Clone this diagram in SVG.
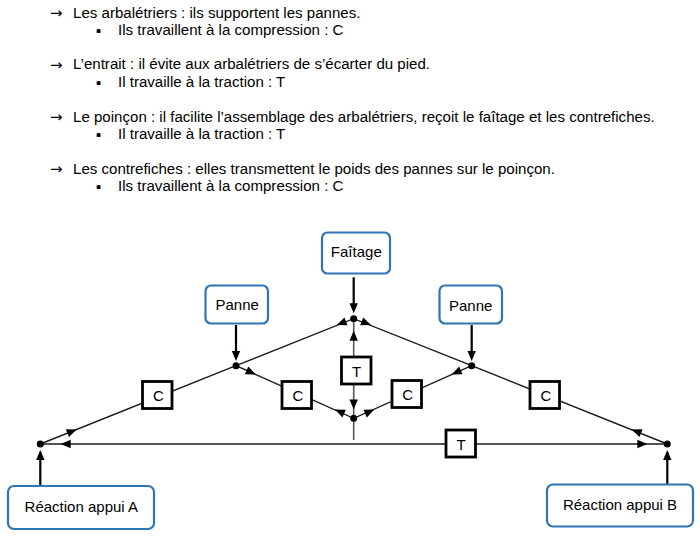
<svg xmlns="http://www.w3.org/2000/svg" width="700" height="536" viewBox="0 0 700 536">
<style>
text{font-family:"Liberation Sans",Arial,sans-serif;fill:#000}
.h{font-size:15.08px}
.s{font-family:"DejaVu Sans",sans-serif;font-size:15px}
.p{font-family:"DejaVu Sans",sans-serif;font-size:7.5px}
.b{font-size:15px;text-anchor:middle}
.n rect{fill:#fff;stroke:#2e75b6;stroke-width:2.2}
.m rect{fill:#fff;stroke:#000;stroke-width:2.8}
.l{stroke:#1a1a1a;stroke-width:1.4;fill:none}
.g{stroke:#555;stroke-width:1.6;fill:none}
.k{stroke:#000;stroke-width:2.2;fill:none}
.a,.d{fill:#000}
</style>
<defs>
<path id="ah" d="M0 0L-10 -4.2L-10 4.2Z" class="a"/>
</defs>
<rect width="700" height="536" fill="#fff"/>
<g id="texte">
<text class="s" x="50" y="18">→</text><text class="h" x="73" y="17.5">Les arbalétriers : ils supportent les pannes.</text>
<text class="p" x="96" y="33.300">▪</text><text class="h" x="118" y="35">Ils travaillent à la compression : C</text>
<text class="s" x="50" y="70">→</text><text class="h" x="73" y="69">L’entrait : il évite aux arbalétriers de s’écarter du pied.</text>
<text class="p" x="96" y="85.300">▪</text><text class="h" x="118" y="87">Il travaille à la traction : T</text>
<text class="s" x="50" y="122">→</text><text class="h" x="73" y="121.5">Le poinçon : il facilite l’assemblage des arbalétriers, reçoit le faîtage et les contrefiches.</text>
<text class="p" x="96" y="136.800">▪</text><text class="h" x="118" y="138.500">Il travaille à la traction : T</text>
<text class="s" x="50" y="174">→</text><text class="h" x="73" y="173.500">Les contrefiches : elles transmettent le poids des pannes sur le poinçon.</text>
<text class="p" x="96" y="189.300">▪</text><text class="h" x="118" y="191">Ils travaillent à la compression : C</text>
</g>
<g id="connecteurs">
<path class="l" d="M40.300 444L236 365.700L353.700 318.700L471.700 365.700L667.300 444"/>
<path class="l" d="M40.300 444H667.300"/>
<path class="l" d="M236 365.700L353.700 418.300L471.700 365.700"/>
<path class="g" d="M353.700 318.700V440"/>
<path class="k" d="M353.700 277.300V306M236 325V353M471.700 325V353M40.300 486V452M667.300 485V452"/>
<use href="#ah" transform="translate(353.700 313.300) rotate(90)"/>
<use href="#ah" transform="translate(236 361) rotate(90)"/>
<use href="#ah" transform="translate(471.700 361) rotate(90)"/>
<use href="#ah" transform="translate(40.300 450) rotate(-90)"/>
<use href="#ah" transform="translate(667.300 450) rotate(-90)"/>
<use href="#ah" transform="translate(336.700 325) rotate(158.300)"/>
<use href="#ah" transform="translate(371 325) rotate(21.700)"/>
<use href="#ah" transform="translate(353.700 330.700) rotate(-90)"/>
<use href="#ah" transform="translate(353.700 409.500) rotate(90)"/>
<use href="#ah" transform="translate(335 409.500) rotate(-155.900)"/>
<use href="#ah" transform="translate(374.300 409.500) rotate(-24.100)"/>
<use href="#ah" transform="translate(255.700 374.500) rotate(24.100)"/>
<use href="#ah" transform="translate(451.700 374.500) rotate(155.900)"/>
<use href="#ah" transform="translate(76.700 429.500) rotate(-21.800)"/>
<use href="#ah" transform="translate(631.700 429.500) rotate(-158.200)"/>
<use href="#ah" transform="translate(60.700 444) rotate(180)"/>
<use href="#ah" transform="translate(647.300 444)"/>
<circle class="d" cx="353.700" cy="318.700" r="3.500"/>
<circle class="d" cx="236" cy="365.700" r="3.500"/>
<circle class="d" cx="471.700" cy="365.700" r="3.500"/>
<circle class="d" cx="353.700" cy="418.300" r="3.500"/>
<circle class="d" cx="40.300" cy="444" r="3.500"/>
<circle class="d" cx="667.300" cy="444" r="3.500"/>
</g>
<g id="faitage" class="n"><rect x="322" y="232.500" width="68" height="41" rx="5.500"/><text class="b" x="356.300" y="257.300">Faîtage</text></g>
<g id="panne-g" class="n"><rect x="205.500" y="285.500" width="62.500" height="38" rx="5.500"/><text class="b" x="237.200" y="310">Panne</text></g>
<g id="panne-d" class="n"><rect x="439.500" y="285.500" width="62.500" height="38" rx="5.500"/><text class="b" x="470.700" y="311">Panne</text></g>
<g id="appui-a" class="n"><rect x="8" y="486" width="146" height="43" rx="6"/><text class="b" x="81.300" y="511.700">Réaction appui A</text></g>
<g id="appui-b" class="n"><rect x="547" y="484.500" width="146" height="42" rx="6"/><text class="b" x="620" y="509.500">Réaction appui B</text></g>
<g id="c1" class="m"><rect x="142.500" y="381.500" width="29.500" height="27"/><text class="b" x="158.300" y="401">C</text></g>
<g id="c2" class="m"><rect x="282" y="381.500" width="29.500" height="27"/><text class="b" x="298" y="401">C</text></g>
<g id="t1" class="m"><rect x="341.500" y="357" width="29.500" height="27"/><text class="b" x="356.700" y="376.700">T</text></g>
<g id="c3" class="m"><rect x="392" y="380.500" width="29.500" height="27"/><text class="b" x="407.700" y="400">C</text></g>
<g id="c4" class="m"><rect x="530" y="381.500" width="29.500" height="27"/><text class="b" x="545.800" y="401">C</text></g>
<g id="t2" class="m"><rect x="446" y="430" width="29.500" height="27"/><text class="b" x="461" y="450">T</text></g>
</svg>
